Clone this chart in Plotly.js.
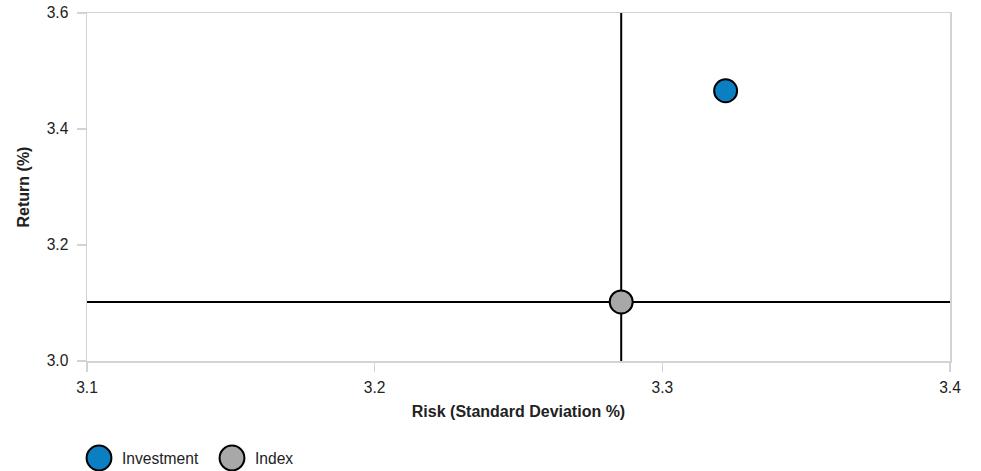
<!DOCTYPE html>
<html>
<head>
<meta charset="utf-8">
<script src="https://cdn.plot.ly/plotly-3.0.1.min.js"></script>
<style>html,body{margin:0;padding:0;background:#fff;}#chart{width:981px;height:471px;}</style>
</head>
<body>
<div id="chart"></div>
<script>
var seriesNames = ["Investment", "Index"];
var riskValues = [3.322, 3.2857];
var returnValues = [3.466, 3.1018];
var seriesColors = ["#0a7fc2", "#a8a8a8"];
var xTickVals = [3.1, 3.2, 3.3, 3.4];
var yTickVals = [3.0, 3.2, 3.4, 3.6];

var traces = seriesNames.map(function(n, i){
  return {
    type: "scatter", mode: "markers", name: n,
    x: [riskValues[i]], y: [returnValues[i]],
    marker: {size: 23, color: seriesColors[i], line: {color: "#000", width: 2}},
    hoverinfo: "none"
  };
});

var ix = riskValues[1], iy = returnValues[1];
var axisCommon = {
  showgrid: false, zeroline: false, showline: true, linecolor: "#d3d3d3", linewidth: 1.5, mirror: true,
  ticks: "outside", tickcolor: "#d3d3d3", tickwidth: 1.5, automargin: false,
  tickfont: {size: 15.6, color: "#222"}
};
var layout = {
  width: 981, height: 471,
  margin: {l: 87, r: 31, t: 13, b: 110},
  paper_bgcolor: "#fff", plot_bgcolor: "#fff",
  font: {family: "Liberation Sans, Arial, sans-serif", size: 15.6, color: "#222"},
  xaxis: Object.assign({}, axisCommon, {
    range: [3.1, 3.4], tickvals: xTickVals, ticktext: xTickVals.map(function(v){return v.toFixed(1);}),
    ticklen: 9, ticklabelstandoff: 3,
    title: {text: "<b>Risk (Standard Deviation %)</b>", font: {size: 16, color: "#222"}, standoff: 10}
  }),
  yaxis: Object.assign({}, axisCommon, {
    range: [3.0, 3.6], tickvals: yTickVals, ticktext: yTickVals.map(function(v){return v.toFixed(1);}),
    ticklen: 9, ticklabelstandoff: 5,
    title: {text: "<b>Return (%)</b>", font: {size: 16, color: "#222"}, standoff: 13}
  }),
  shapes: [
    {type: "line", xref: "x", yref: "paper", x0: ix, x1: ix, y0: 0, y1: 1, line: {color: "#000", width: 2}, layer: "below"},
    {type: "line", xref: "paper", yref: "y", x0: 0, x1: 1, y0: iy, y1: iy, line: {color: "#000", width: 2}, layer: "below"}
  ],
  showlegend: true,
  legend: {orientation: "h", x: 0, xanchor: "left", y: -0.05, yanchor: "top", font: {size: 15.6, color: "#222"}, itemsizing: "trace", entrywidth: 88}
};
Plotly.newPlot("chart", traces, layout, {displayModeBar: false, staticPlot: true}).then(function(gd){
  var pts = gd.querySelectorAll(".legend .legendpoints path.scatterpts");
  pts.forEach(function(p){
    var t = p.getAttribute("transform") || "";
    p.setAttribute("transform", t + " scale(1.55)");
    p.style.strokeWidth = "1.3px";
  });
  gd.querySelectorAll(".legend text.legendtext").forEach(function(t){
    t.setAttribute("x", 43);
  });
  var leg = gd.querySelector("g.legend");
  var tr = leg.getAttribute("transform") || "translate(0,0)";
  var m = tr.match(/translate\(\s*([-\d.]+)[ ,]+([-\d.]+)\s*\)/);
  if (m && pts.length) {
    var r = pts[0].getBoundingClientRect();
    var cx = r.left + r.width / 2, cy = r.top + r.height / 2;
    var nx = parseFloat(m[1]) + (99 - cx), ny = parseFloat(m[2]) + (458 - cy);
    leg.setAttribute("transform", "translate(" + nx + "," + ny + ")");
  }
});
</script>
</body>
</html>
